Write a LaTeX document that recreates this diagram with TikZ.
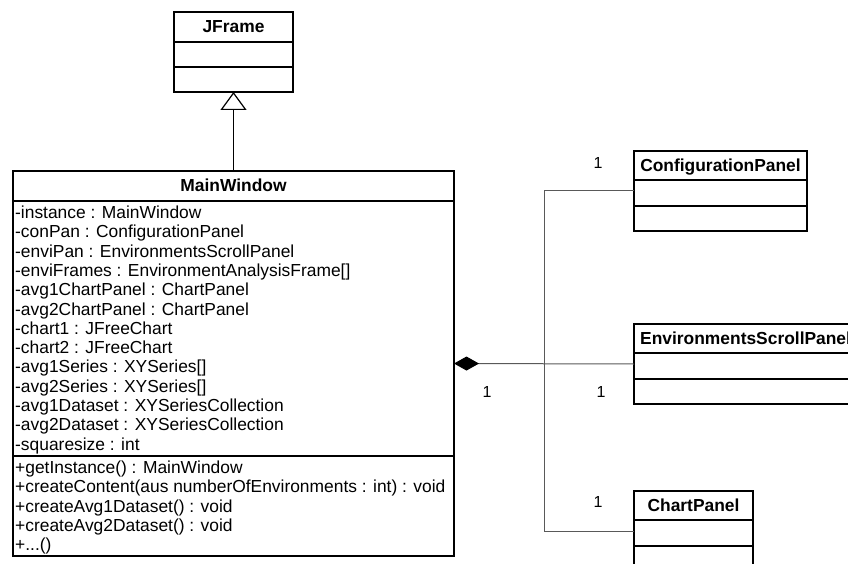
\documentclass[tikz,border=0pt]{standalone}
\usepackage{fontspec}
\setmainfont{Liberation Sans}
\usetikzlibrary{arrows.meta}
\begin{document}
\begin{tikzpicture}[x=1pt,y=-1pt,
  classbox/.style={draw=black, line width=1.6pt, anchor=north west, inner sep=0pt, outer sep=0pt},
  rule/.style={draw=black, line width=1.6pt},
  title/.style={font=\fontsize{17.4}{19}\selectfont\bfseries, anchor=base, inner sep=0pt},
  member/.style={font=\fontsize{17.4}{19}\selectfont, anchor=base west, inner sep=0pt},
  mult/.style={font=\fontsize{16}{18}\selectfont, anchor=base, inner sep=0pt},
  conn/.style={draw=black!65, line width=1pt},
]
\useasboundingbox (0,0) rectangle (848,564);
\clip (0,0) rectangle (848,564);

% JFrame
\node[classbox, minimum width=119pt, minimum height=80pt] (jframe) at (174,12) {};
\draw[rule] (174,42) -- (293,42);
\draw[rule] (174,67) -- (293,67);
\node[title] (jframeT) at (233.5,33) {JFrame};

% MainWindow
\node[classbox, minimum width=441pt, minimum height=385pt] (main) at (13,171) {};
\draw[rule] (13,201) -- (454,201);
\draw[rule] (13,456) -- (454,456);
\node[title] (mainT) at (233.5,192) {MainWindow};
\foreach \t [count=\i from 0] in {%
  {-instance : MainWindow},
  {-conPan : ConfigurationPanel},
  {-enviPan : EnvironmentsScrollPanel},
  {-enviFrames : EnvironmentAnalysisFrame[]},
  {-avg1ChartPanel : ChartPanel},
  {-avg2ChartPanel : ChartPanel},
  {-chart1 : JFreeChart},
  {-chart2 : JFreeChart},
  {-avg1Series : XYSeries[]},
  {-avg2Series : XYSeries[]},
  {-avg1Dataset : XYSeriesCollection},
  {-avg2Dataset : XYSeriesCollection},
  {-squaresize : int}}
  \node[member] (attr\i) at (15,218.5+19.3*\i) {\t};
\foreach \t [count=\i from 0] in {%
  {+getInstance() : MainWindow},
  {+createContent(aus numberOfEnvironments : int) : void},
  {+createAvg1Dataset() : void},
  {+createAvg2Dataset() : void}}
  \node[member] (op\i) at (15,473.5+19.3*\i) {\t};
\node[member] (op4) at (15,550.7) {+...()};

% ConfigurationPanel
\node[classbox, minimum width=173pt, minimum height=80pt] (cfg) at (634,151) {};
\draw[rule] (634,180) -- (807,180);
\draw[rule] (634,206) -- (807,206);
\node[title] (cfgT) at (720.5,171.5) {ConfigurationPanel};

% EnvironmentsScrollPanel
\node[classbox, minimum width=260pt, minimum height=80pt] (env) at (634,324) {};
\draw[rule] (634,353) -- (894,353);
\draw[rule] (634,379) -- (894,379);
\node[title, anchor=base west] (envT) at (640,344.5) {EnvironmentsScrollPanel};

% ChartPanel
\node[classbox, minimum width=119pt, minimum height=80pt] (chart) at (634,491) {};
\draw[rule] (634,520) -- (753,520);
\draw[rule] (634,546) -- (753,546);
\node[title] (chartT) at (693.5,511.5) {ChartPanel};

% generalisation
\draw[black, line width=1pt, -{Triangle[open, length=18pt, width=26pt, line width=1.2pt]}] (main.north) -- (jframe.south);

% composition
\draw[conn, {Diamond[length=25pt, width=14pt, color=black, fill=black]}-] (main.east) -- (env.west);
\coordinate (bus) at (544,0);
\draw[conn] (cfg.west) -- (cfg.west -| bus) -- (chart.west -| bus) -- (chart.west);

% multiplicities
\node[mult] (m1) at (598,168) {1};
\node[mult] (m2) at (487,397) {1};
\node[mult] (m3) at (601,397) {1};
\node[mult] (m4) at (598,507) {1};
\end{tikzpicture}
\end{document}
